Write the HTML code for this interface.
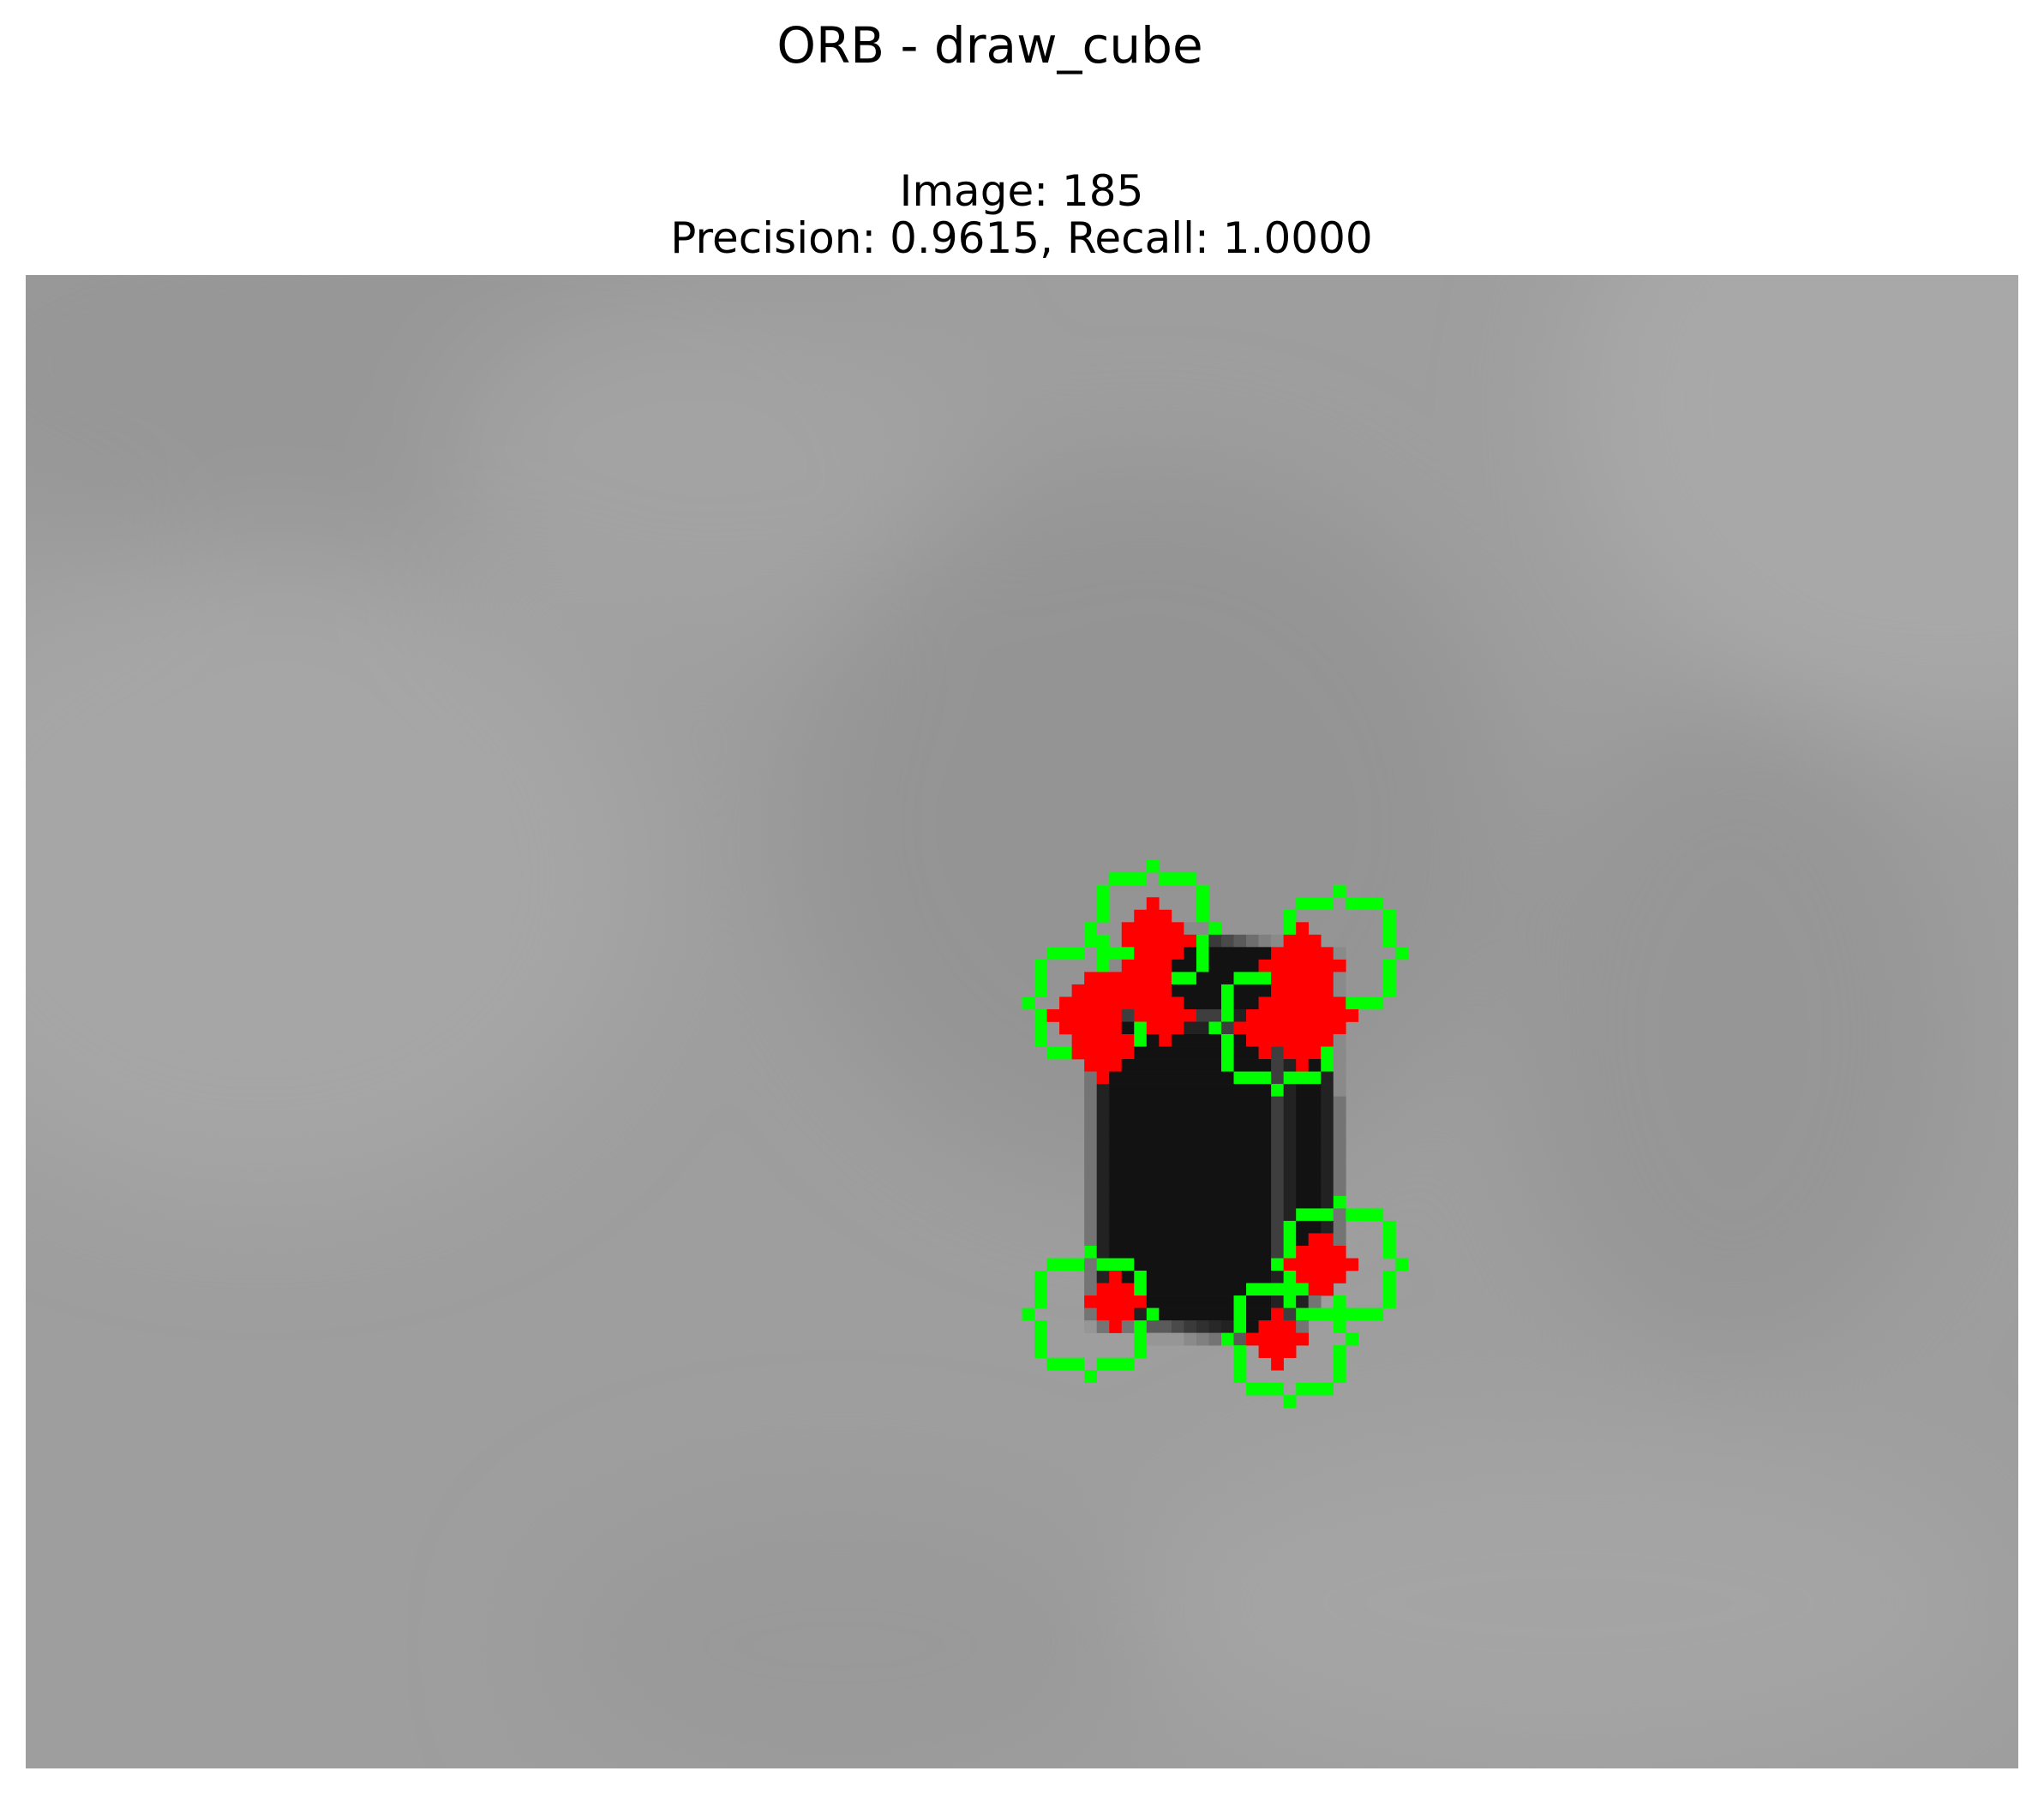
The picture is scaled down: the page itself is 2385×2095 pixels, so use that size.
<!DOCTYPE html>
<html><head><meta charset="utf-8"><style>
html,body{margin:0;padding:0;background:#fff;}
svg{display:block;}
text{font-family:"DejaVu Sans","Liberation Sans",sans-serif;fill:#000;}
</style></head><body>
<svg id="fig" width="2385" height="2095" viewBox="0 0 2385 2095" xmlns="http://www.w3.org/2000/svg">
<defs>
<filter id="bl" x="-50%" y="-50%" width="200%" height="200%"><feGaussianBlur stdDeviation="70"/></filter>
<clipPath id="imgclip"><rect x="0" y="0" width="2325" height="1743"/></clipPath>
</defs>
<text x="1155" y="73" font-size="58" text-anchor="middle">ORB - draw_cube</text>
<text x="1192" y="240" font-size="50" text-anchor="middle">Image: 185</text>
<text x="1192" y="295" font-size="50" text-anchor="middle">Precision: 0.9615, Recall: 1.0000</text>
<g id="img" transform="translate(30,321)">
<g clip-path="url(#imgclip)">
<rect x="0" y="0" width="2325" height="1743" fill="#9e9e9e"/>
<g filter="url(#bl)">
<ellipse cx="426" cy="105" rx="600" ry="260" fill="#979797"/>
<ellipse cx="274" cy="700" rx="450" ry="380" fill="#a6a6a6"/>
<ellipse cx="790" cy="220" rx="300" ry="200" fill="#a3a3a3"/>
<ellipse cx="1308" cy="640" rx="420" ry="420" fill="#949494"/>
<ellipse cx="2250" cy="150" rx="450" ry="380" fill="#a8a8a8"/>
<ellipse cx="1993" cy="886" rx="260" ry="380" fill="#969696"/>
<ellipse cx="1800" cy="1550" rx="500" ry="200" fill="#a4a4a4"/>
<ellipse cx="950" cy="1600" rx="350" ry="180" fill="#9a9a9a"/>
</g>
<g id="pix"></g>
</g>
</g>
</svg>
<script>
// pixel runs: [row, colStart, colEnd, code] on a 160x120 image
const runs = [
[47,90,90,'G'],
[48,87,89,'G'],[48,91,93,'G'],
[49,86,86,'G'],[49,94,94,'G'],[49,105,105,'G'],
[50,86,86,'G'],[50,90,90,'R'],[50,94,94,'G'],[50,102,104,'G'],[50,106,108,'G'],
[51,86,86,'G'],[51,89,91,'R'],[51,94,94,'G'],[51,101,101,'G'],[51,109,109,'G'],
[52,85,85,'G'],[52,88,92,'R'],[52,93,94,'a'],[52,95,95,'G'],[52,101,101,'G'],[52,102,102,'R'],[52,109,109,'G'],
[53,85,86,'G'],[53,88,93,'R'],[53,94,94,'G'],[53,95,95,'3'],[53,96,96,'2'],[53,97,97,'1'],[53,98,98,'6'],[53,99,99,'7'],[53,100,100,'a'],[53,101,103,'R'],[53,109,109,'G'],
[54,82,84,'G'],[54,86,88,'G'],[54,89,92,'R'],[54,93,93,'K'],[54,94,94,'G'],[54,95,99,'K'],[54,100,104,'R'],[54,105,105,'a'],[54,110,110,'G'],
[55,81,81,'G'],[55,86,86,'G'],[55,87,87,'a'],[55,88,91,'R'],[55,92,93,'K'],[55,94,94,'G'],[55,95,98,'K'],[55,99,105,'R'],[55,109,109,'G'],
[56,81,81,'G'],[56,85,91,'R'],[56,92,93,'G'],[56,94,96,'K'],[56,97,99,'G'],[56,100,104,'R'],[56,105,105,'a'],[56,109,109,'G'],
[57,81,81,'G'],[57,84,91,'R'],[57,92,95,'K'],[57,96,96,'G'],[57,97,99,'K'],[57,100,104,'R'],[57,105,105,'a'],[57,109,109,'G'],
[58,80,80,'G'],[58,83,92,'R'],[58,93,95,'K'],[58,96,96,'G'],[58,97,98,'K'],[58,99,105,'R'],[58,106,108,'G'],
[59,81,81,'G'],[59,82,87,'R'],[59,88,88,'M'],[59,89,93,'R'],[59,94,95,'M'],[59,96,96,'G'],[59,97,97,'D'],[59,98,106,'R'],
[60,81,81,'G'],[60,83,87,'R'],[60,88,88,'K'],[60,89,89,'G'],[60,90,92,'R'],[60,93,94,'D'],[60,95,95,'G'],[60,96,96,'M'],[60,97,105,'R'],
[61,81,81,'G'],[61,84,88,'R'],[61,89,89,'G'],[61,90,90,'K'],[61,91,91,'R'],[61,92,95,'K'],[61,96,96,'G'],[61,97,97,'K'],[61,98,104,'R'],[61,105,105,'a'],
[62,82,83,'G'],[62,84,88,'R'],[62,89,95,'K'],[62,96,96,'G'],[62,97,98,'K'],[62,99,99,'R'],[62,100,100,'M'],[62,101,103,'R'],[62,104,104,'G'],[62,105,105,'a'],
[63,85,87,'R'],[63,88,95,'K'],[63,96,96,'G'],[63,97,99,'K'],[63,100,100,'M'],[63,101,101,'D'],[63,102,102,'R'],[63,103,103,'K'],[63,104,104,'G'],[63,105,105,'a'],
[64,85,85,'L'],[64,86,86,'R'],[64,87,96,'K'],[64,97,99,'G'],[64,100,100,'M'],[64,101,103,'G'],[64,104,104,'D'],[64,105,105,'a'],
[65,85,85,'L'],[65,86,86,'D'],[65,87,99,'K'],[65,100,100,'G'],[65,101,101,'D'],[65,102,103,'K'],[65,104,104,'D'],[65,105,105,'a'],
[66,85,85,'L'],[66,86,86,'D'],[66,87,99,'K'],[66,100,100,'M'],[66,101,101,'D'],[66,102,103,'K'],[66,104,104,'D'],[66,105,105,'L'],
[67,85,85,'L'],[67,86,86,'D'],[67,87,99,'K'],[67,100,100,'M'],[67,101,101,'D'],[67,102,103,'K'],[67,104,104,'D'],[67,105,105,'L'],
[68,85,85,'L'],[68,86,86,'D'],[68,87,99,'K'],[68,100,100,'M'],[68,101,101,'D'],[68,102,103,'K'],[68,104,104,'D'],[68,105,105,'L'],
[69,85,85,'L'],[69,86,86,'D'],[69,87,99,'K'],[69,100,100,'M'],[69,101,101,'D'],[69,102,103,'K'],[69,104,104,'D'],[69,105,105,'L'],
[70,85,85,'L'],[70,86,86,'D'],[70,87,99,'K'],[70,100,100,'M'],[70,101,101,'D'],[70,102,103,'K'],[70,104,104,'D'],[70,105,105,'L'],
[71,85,85,'L'],[71,86,86,'D'],[71,87,99,'K'],[71,100,100,'M'],[71,101,101,'D'],[71,102,103,'K'],[71,104,104,'D'],[71,105,105,'L'],
[72,85,85,'L'],[72,86,86,'D'],[72,87,99,'K'],[72,100,100,'M'],[72,101,101,'D'],[72,102,103,'K'],[72,104,104,'D'],[72,105,105,'L'],
[73,85,85,'L'],[73,86,86,'D'],[73,87,99,'K'],[73,100,100,'M'],[73,101,101,'D'],[73,102,103,'K'],[73,104,104,'D'],[73,105,105,'L'],
[74,85,85,'L'],[74,86,86,'D'],[74,87,99,'K'],[74,100,100,'M'],[74,101,101,'D'],[74,102,103,'K'],[74,104,104,'D'],[74,105,105,'G'],
[75,85,85,'L'],[75,86,86,'D'],[75,87,99,'K'],[75,100,100,'M'],[75,101,101,'D'],[75,102,104,'G'],[75,105,105,'L'],[75,106,108,'G'],
[76,85,85,'L'],[76,86,86,'D'],[76,87,99,'K'],[76,100,100,'M'],[76,101,101,'G'],[76,102,103,'K'],[76,104,104,'D'],[76,105,105,'L'],[76,109,109,'G'],
[77,85,85,'L'],[77,86,86,'D'],[77,87,99,'K'],[77,100,100,'M'],[77,101,101,'G'],[77,102,102,'K'],[77,103,104,'R'],[77,105,105,'L'],[77,109,109,'G'],
[78,85,85,'G'],[78,86,86,'D'],[78,87,99,'K'],[78,100,100,'M'],[78,101,101,'G'],[78,102,105,'R'],[78,109,109,'G'],
[79,82,84,'G'],[79,85,85,'L'],[79,86,88,'G'],[79,89,99,'K'],[79,100,100,'G'],[79,101,106,'R'],[79,110,110,'G'],
[80,81,81,'G'],[80,85,85,'L'],[80,86,86,'D'],[80,87,87,'R'],[80,88,88,'K'],[80,89,89,'G'],[80,90,99,'K'],[80,100,100,'D'],[80,101,101,'G'],[80,102,105,'R'],[80,109,109,'G'],
[81,81,81,'G'],[81,85,85,'L'],[81,86,88,'R'],[81,89,89,'G'],[81,90,97,'K'],[81,98,102,'G'],[81,103,104,'R'],[81,109,109,'G'],
[82,81,81,'G'],[82,85,89,'R'],[82,90,96,'K'],[82,97,97,'G'],[82,98,99,'K'],[82,100,100,'D'],[82,101,101,'G'],[82,102,102,'D'],[82,103,103,'L'],[82,105,105,'G'],[82,109,109,'G'],
[83,80,80,'G'],[83,85,85,'L'],[83,86,88,'R'],[83,89,89,'D'],[83,90,90,'G'],[83,91,96,'K'],[83,97,97,'G'],[83,98,99,'K'],[83,100,100,'R'],[83,101,101,'M'],[83,102,108,'G'],
[84,81,81,'G'],[84,85,85,'8'],[84,86,86,'L'],[84,87,87,'R'],[84,88,88,'L'],[84,89,89,'G'],[84,90,91,'1'],[84,92,92,'2'],[84,93,93,'3'],[84,94,94,'4'],[84,95,95,'5'],[84,96,96,'D'],[84,97,97,'G'],[84,98,98,'K'],[84,99,101,'R'],[84,102,102,'L'],[84,105,105,'G'],
[85,81,81,'G'],[85,89,89,'G'],[85,90,92,'8'],[85,93,93,'a'],[85,94,94,'7'],[85,95,95,'L'],[85,96,96,'G'],[85,97,97,'1'],[85,98,102,'R'],[85,106,106,'G'],
[86,81,81,'G'],[86,89,89,'G'],[86,97,97,'G'],[86,99,101,'R'],[86,105,105,'G'],
[87,82,84,'G'],[87,86,88,'G'],[87,97,97,'G'],[87,100,100,'R'],[87,105,105,'G'],
[88,85,85,'G'],[88,97,97,'G'],[88,105,105,'G'],
[89,98,100,'G'],[89,102,104,'G'],
[90,101,101,'G']
];
const palette = {G:'#00ff00',R:'#ff0000',K:'#121212',D:'#222222',M:'#3e3e3e',L:'#747474',a:'#8a8a8a',
  '1':'#5a5a5a','2':'#4a4a4a','3':'#3a3a3a','4':'#303030','5':'#282828','6':'#6e6e6e','7':'#808080','8':'#969696'};
const nameFor = {G:'keypoint-circle-pixel',R:'keypoint-marker-pixel'};
const cols = 160, rows = 120;
const W = 2325, H = 1743;
const px = W/cols, py = H/rows;
const g = document.getElementById('pix');
const NS = 'http://www.w3.org/2000/svg';
runs.forEach(r => {
  const el = document.createElementNS(NS,'rect');
  el.setAttribute('x', (r[1]*px).toFixed(2));
  el.setAttribute('y', (r[0]*py).toFixed(2));
  el.setAttribute('width', ((r[2]-r[1]+1)*px+0.3).toFixed(2));
  el.setAttribute('height', (py+0.3).toFixed(2));
  el.setAttribute('fill', palette[r[3]]);
  
  
  g.appendChild(el);
});
</script>
</body></html>
